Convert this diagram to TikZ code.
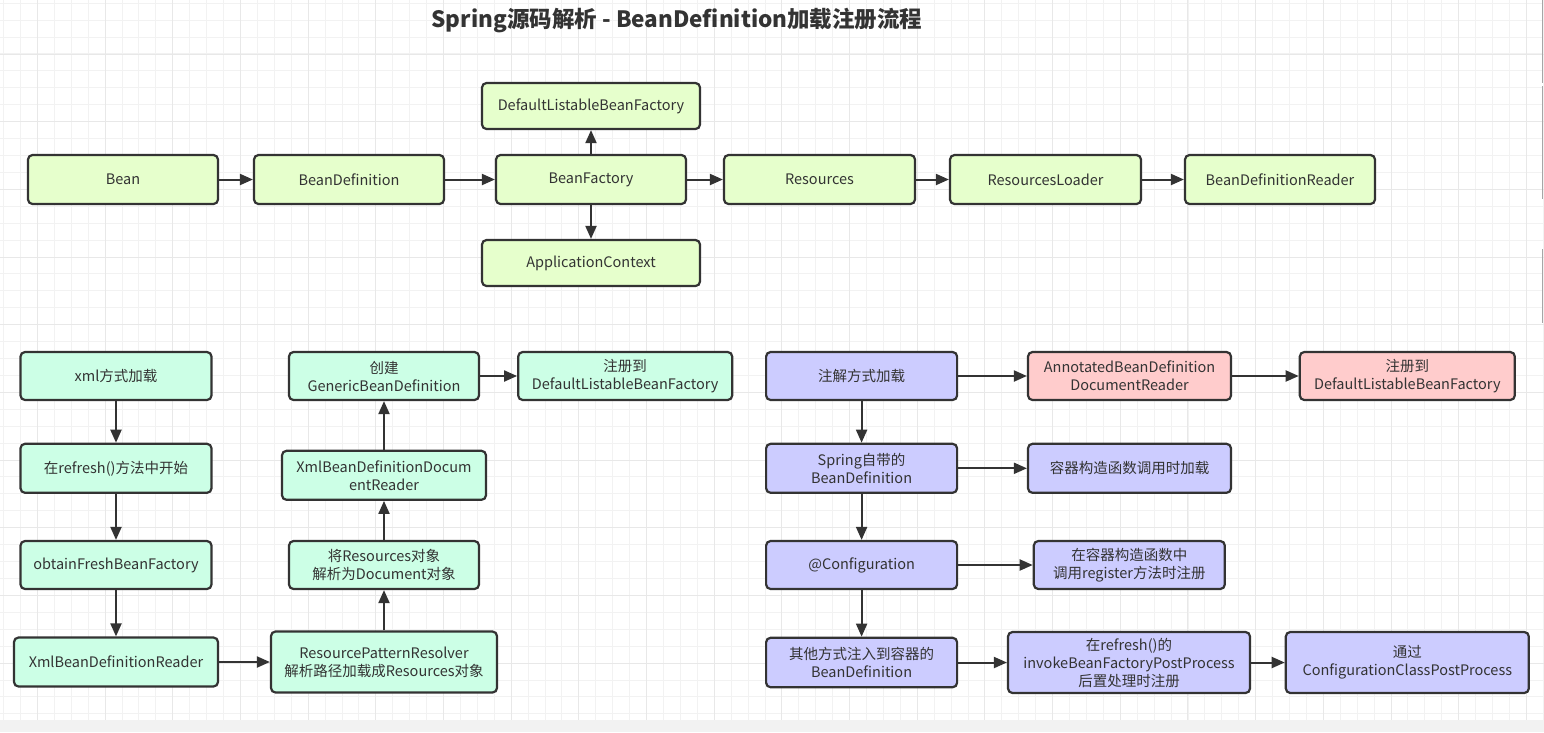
\documentclass[tikz,border=0pt]{standalone}
\usepackage{fontspec}
\setmainfont{Noto Sans CJK SC}
\usetikzlibrary{arrows.meta}
\definecolor{ink}{HTML}{333333}
\definecolor{gfill}{HTML}{E6FFCC}
\definecolor{mfill}{HTML}{CCFFE6}
\definecolor{pfill}{HTML}{CCCCFF}
\definecolor{rfill}{HTML}{FFCCCC}
\definecolor{gridmin}{HTML}{F2F2F2}
\definecolor{gridmaj}{HTML}{E8E8E8}
\tikzset{
  boxbase/.style={draw=ink, line width=2.2pt, rounded corners=4.5pt, align=center, inner sep=0pt,
    text=ink, font=\fontsize{14.5}{18}\selectfont},
  gbox/.style={boxbase, fill=gfill},
  mbox/.style={boxbase, fill=mfill},
  pbox/.style={boxbase, fill=pfill},
  rbox/.style={boxbase, fill=rfill},
  conn/.style={draw=ink, line width=2pt, -{Triangle[length=13pt,width=11pt]}},
}
\begin{document}
\begin{tikzpicture}[x=1pt,y=-1pt]
\useasboundingbox (0,0) rectangle (1544,732);
\fill[white] (0,0) rectangle (1544,732);
% grid
\foreach \i in {0,...,91} {\draw[gridmin, line width=1pt] ({3.6+16.92*\i},0) -- ({3.6+16.92*\i},720);}
\foreach \j in {0,...,42} {\draw[gridmin, line width=1pt] (0,{3.2+16.92*\j}) -- (1544,{3.2+16.92*\j});}
\foreach \i in {0,...,22} {\draw[gridmaj, line width=1pt] ({37.4+67.68*\i},0) -- ({37.4+67.68*\i},720);}
\foreach \j in {0,...,10} {\draw[gridmaj, line width=1pt] (0,{54+67.68*\j}) -- (1544,{54+67.68*\j});}
\fill[gridmin] (0,720) rectangle (1544,732);
\draw[gray!70, line width=1pt] (1542.7,0) -- (1542.7,82.7);
\draw[gray!70, line width=1pt] (1542.7,86) -- (1542.7,199);
\draw[gray!70, line width=1pt] (1542.7,249) -- (1542.7,323);

% title
\node[text=ink, font=\fontsize{22.5}{26}\selectfont\bfseries] (title) at (677,21) {Spring源码解析 - BeanDefinition加载注册流程};

% top row
\node[gbox, minimum width=190pt, minimum height=49pt] (bean) at (123,179.5) {Bean};
\node[gbox, minimum width=190pt, minimum height=49pt] (bdef) at (349,179.5) {BeanDefinition};
\node[gbox, minimum width=190pt, minimum height=49pt] (bf) at (591,179.5) {BeanFactory};
\node[gbox, minimum width=191pt, minimum height=49pt] (res) at (819.5,179.5) {Resources};
\node[gbox, minimum width=191pt, minimum height=49pt] (resl) at (1045.5,179.5) {ResourcesLoader};
\node[gbox, minimum width=190pt, minimum height=49pt] (bdr) at (1280,179.5) {BeanDefinitionReader};
\node[gbox, minimum width=218pt, minimum height=46pt] (dlbf) at (591,106) {DefaultListableBeanFactory};
\node[gbox, minimum width=218pt, minimum height=46pt] (appctx) at (591,263) {ApplicationContext};

\draw[conn] (bean) -- (bdef);
\draw[conn] (bdef) -- (bf);
\draw[conn] (bf) -- (res);
\draw[conn] (res) -- (resl);
\draw[conn] (resl) -- (bdr);
\draw[conn] (bf) -- (dlbf);
\draw[conn] (bf) -- (appctx);

% left group
\node[mbox, minimum width=191pt, minimum height=48pt] (xml) at (116,376) {xml方式加载};
\node[mbox, minimum width=191pt, minimum height=49pt] (refresh) at (116,468.3) {在refresh()方法中开始};
\node[mbox, minimum width=191pt, minimum height=48pt] (obtain) at (116,565) {obtainFreshBeanFactory};
\node[mbox, minimum width=204pt, minimum height=49pt] (xmlreader) at (116,662) {XmlBeanDefinitionReader};
\node[mbox, minimum width=226pt, minimum height=61pt] (rpr) at (384,662) {ResourcePatternResolver\\解析路径加载成Resources对象};
\node[mbox, minimum width=190pt, minimum height=48pt] (parse) at (384,565) {将Resources对象\\解析为Document对象};
\node[mbox, minimum width=204pt, minimum height=49pt] (xmldoc) at (384,475.3) {XmlBeanDefinitionDocum\\entReader};
\node[mbox, minimum width=190pt, minimum height=48pt] (create) at (384,376) {创建\\GenericBeanDefinition};
\node[mbox, minimum width=214pt, minimum height=48pt] (reg1) at (625.2,376) {注册到\\DefaultListableBeanFactory};

\draw[conn] (xml) -- (refresh);
\draw[conn] (refresh) -- (obtain);
\draw[conn] (obtain) -- (xmlreader);
\draw[conn] (xmlreader) -- (rpr);
\draw[conn] (rpr) -- (parse);
\draw[conn] (parse) -- (xmldoc);
\draw[conn] (xmldoc) -- (create);
\draw[conn] (create) -- (reg1);

% right group
\node[pbox, minimum width=191pt, minimum height=48pt] (anno) at (861.6,376) {注解方式加载};
\node[rbox, minimum width=203pt, minimum height=48pt] (annreader) at (1129.5,376) {AnnotatedBeanDefinition\\DocumentReader};
\node[rbox, minimum width=215pt, minimum height=48pt] (reg2) at (1407.3,376) {注册到\\DefaultListableBeanFactory};
\node[pbox, minimum width=191pt, minimum height=49pt] (springbd) at (861.6,468.3) {Spring自带的\\BeanDefinition};
\node[pbox, minimum width=203pt, minimum height=49pt] (ctor) at (1129.5,468.3) {容器构造函数调用时加载};
\node[pbox, minimum width=191pt, minimum height=48pt] (config) at (861.6,565) {@Configuration};
\node[pbox, minimum width=191pt, minimum height=48pt] (ctorreg) at (1129.3,565) {在容器构造函数中\\调用register方法时注册};
\node[pbox, minimum width=191pt, minimum height=49.5pt] (other) at (861.6,662.5) {其他方式注入到容器的\\BeanDefinition};
\node[pbox, minimum width=242pt, minimum height=61pt] (refinv) at (1129,662.5) {在refresh()的\\invokeBeanFactoryPostProcess\\后置处理时注册};
\node[pbox, minimum width=243pt, minimum height=61pt] (via) at (1407.3,662.5) {通过\\ConfigurationClassPostProcess};

\draw[conn] (anno) -- (annreader);
\draw[conn] (annreader) -- (reg2);
\draw[conn] (anno) -- (springbd);
\draw[conn] (springbd) -- (config);
\draw[conn] (config) -- (other);
\draw[conn] (springbd) -- (ctor);
\draw[conn] (config) -- (ctorreg);
\draw[conn] (other) -- (refinv);
\draw[conn] (refinv) -- (via);
\end{tikzpicture}
\end{document}
